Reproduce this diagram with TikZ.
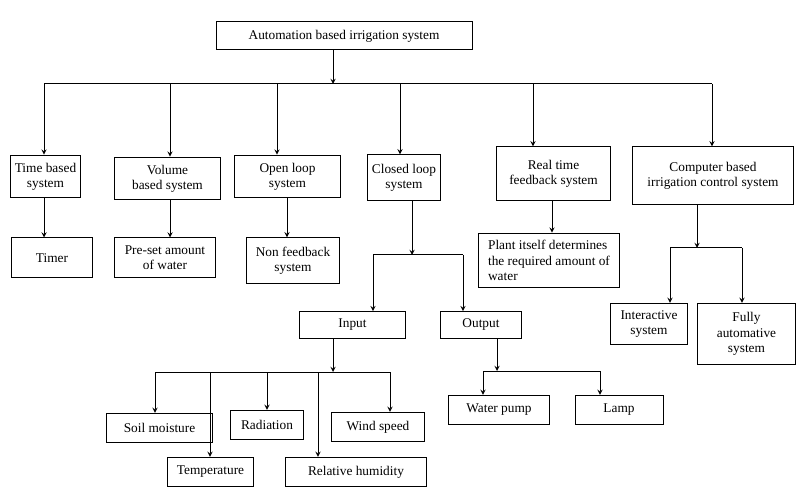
\documentclass[tikz,border=0pt]{standalone}
\usepackage{fontspec}
\setmainfont{Liberation Serif}
\begin{document}
\begin{tikzpicture}[x=0.75pt,y=-0.75pt]
\tikzset{box/.style={draw, rectangle, inner sep=2pt, align=center, font=\fontsize{10}{11.5}\selectfont, line width=0.75pt}, % box style
line/.style={line width=0.75pt}, arr/.style={line width=0.75pt,-stealth}}
\useasboundingbox (0,0) rectangle (803,495);
% top level
\node[box, minimum width=192pt, minimum height=21pt] (top) at (344,36) {Automation based irrigation system};
\node[box, minimum width=52pt, minimum height=32pt] (tb) at (45.5,176.5) {Time based\\system};
\node[box, minimum width=80pt, minimum height=32pt] (vb) at (167.5,178.5) {Volume\\based system};
\node[box, minimum width=79pt, minimum height=32pt] (ol) at (287.5,176.5) {Open loop\\system};
\node[box, minimum width=55pt, minimum height=34pt] (cl) at (404,177.5) {Closed loop\\system};
\node[box, minimum width=85pt, minimum height=40pt] (rt) at (553.5,173.5) {Real time\\feedback system};
\node[box, minimum width=121pt, minimum height=43pt] (cb) at (713,175.5) {Computer based\\irrigation control system};
% second level
\node[box, minimum width=61pt, minimum height=30pt] (timer) at (52,258) {Timer};
\node[box, minimum width=76pt, minimum height=30pt] (preset) at (165,258) {Pre-set amount\\of water};
\node[box, minimum width=70pt, minimum height=34pt] (nf) at (293,260.5) {Non feedback\\system};
\node[box, minimum width=106pt, minimum height=41pt, align=left] (plant) at (549,260.5) {Plant itself determines\\the required amount of\\water};
\node[box, minimum width=79pt, minimum height=20pt] (input) at (352.5,325) {Input};
\node[box, minimum width=61pt, minimum height=20pt] (output) at (481,325) {Output};
\node[box, minimum width=58pt, minimum height=31pt] (inter) at (649,324) {Interactive\\system};
\node[box, minimum width=73pt, minimum height=46pt] (fully) at (746.5,334) {Fully\\automative\\system};
% third level
\node[box, minimum width=79pt, minimum height=22pt] (soil) at (159.5,428) {Soil moisture};
\node[box, minimum width=65pt, minimum height=22pt] (temp) at (210.5,472) {Temperature};
\node[box, minimum width=55pt, minimum height=22pt] (rad) at (267,425) {Radiation};
\node[box, minimum width=106pt, minimum height=22pt] (rh) at (356,472) {Relative humidity};
\node[box, minimum width=70pt, minimum height=22pt] (wind) at (378,427) {Wind speed};
\node[box, minimum width=76pt, minimum height=22pt] (wp) at (499,410) {Water pump};
\node[box, minimum width=66pt, minimum height=22pt] (lamp) at (619,410) {Lamp};
% junctions
\coordinate (j0) at (333,84);
\coordinate (jcl) at (412,255);
\coordinate (jcb) at (697,248);
\coordinate (jin) at (333,372);
\coordinate (jout) at (497,371);
% connectors
\draw[arr] (top.south -| j0) -- (j0);
\draw[line] (44,84) -- (712,84);
\foreach \n/\x in {tb/44,vb/170,ol/277,cl/400,rt/533,cb/712} \draw[arr] (\x,84) -- (\n.north -| \x,0);
\foreach \a/\b/\x in {tb/timer/44,vb/preset/170,ol/nf/287,rt/plant/552} \draw[arr] (\a.south -| \x,0) -- (\b.north -| \x,0);
\draw[arr] (cl.south -| jcl) -- (jcl);
\draw[line] (373,255) -- (463,255);
\foreach \n/\x in {input/373,output/463} \draw[arr] (\x,255) -- (\n.north -| \x,0);
\draw[arr] (cb.south -| jcb) -- (jcb);
\draw[line] (670,248) -- (742,248);
\foreach \n/\x in {inter/670,fully/742} \draw[arr] (\x,248) -- (\n.north -| \x,0);
\draw[arr] (input.south -| jin) -- (jin);
\draw[line] (155,372) -- (390,372);
\foreach \n/\x in {soil/155,temp/210,rad/267,rh/318,wind/390} \draw[arr] (\x,372) -- (\n.north -| \x,0);
\draw[arr] (output.south -| jout) -- (jout);
\draw[line] (483,371) -- (600,371);
\foreach \n/\x in {wp/483,lamp/600} \draw[arr] (\x,371) -- (\n.north -| \x,0);
\end{tikzpicture}
\end{document}
